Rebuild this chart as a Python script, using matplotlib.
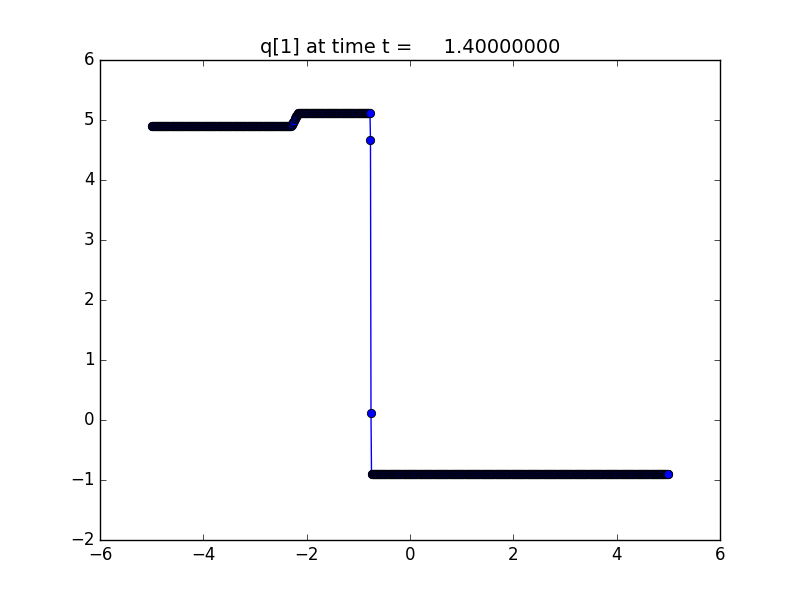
import numpy as np
import matplotlib
matplotlib.use("Agg")
import matplotlib.pyplot as plt

plt.style.use("classic")

# ---- data ----
n_cells = 1000
x_lower, x_upper = -5.0, 5.0
left_state = 4.90
middle_state = 5.12
right_state = -0.90
ramp_start_x = -2.29
ramp_values = [4.91, 4.92, 4.93, 4.95, 4.97, 4.99, 5.01, 5.03, 5.05,
               5.07, 5.08, 5.09, 5.10, 5.11, 5.115, 5.12]
shock_start_x = -0.765
shock_values = [4.67, 0.12]
title_text = "q[1] at time t =     1.40000000"
xticks = [-6, -4, -2, 0, 2, 4, 6]
yticks = [-2, -1, 0, 1, 2, 3, 4, 5, 6]

# ---- build the cell values from the states ----
dx = (x_upper - x_lower) / n_cells
x = x_lower + dx * (np.arange(n_cells) + 0.5)
q = np.empty(n_cells)
i_ramp = int(round((ramp_start_x - x[0]) / dx))
i_shock = int(round((shock_start_x - x[0]) / dx))
q[:i_ramp] = left_state
q[i_ramp:i_ramp + len(ramp_values)] = ramp_values
q[i_ramp + len(ramp_values):i_shock] = middle_state
q[i_shock:i_shock + len(shock_values)] = shock_values
q[i_shock + len(shock_values):] = right_state

fig = plt.figure(figsize=(8, 6), dpi=100)
ax = fig.add_axes([0.125, 0.1, 0.775, 0.8])
ax.plot(x, q, "b-", lw=1)
ax.plot(x, q, "o", color="b", markersize=6, markeredgecolor="k",
        markeredgewidth=0.6, linestyle="none")
ax.set_xlim(-6, 6)
ax.set_ylim(-2, 6)
ax.set_xticks(xticks)
ax.set_yticks(yticks)
ax.set_xticklabels([f"\u2212{abs(t)}" if t < 0 else str(t) for t in xticks])
ax.set_yticklabels([f"\u2212{abs(t)}" if t < 0 else str(t) for t in yticks])
ax.set_title(title_text, fontsize=14)
fig.savefig("out.png", dpi=100)
